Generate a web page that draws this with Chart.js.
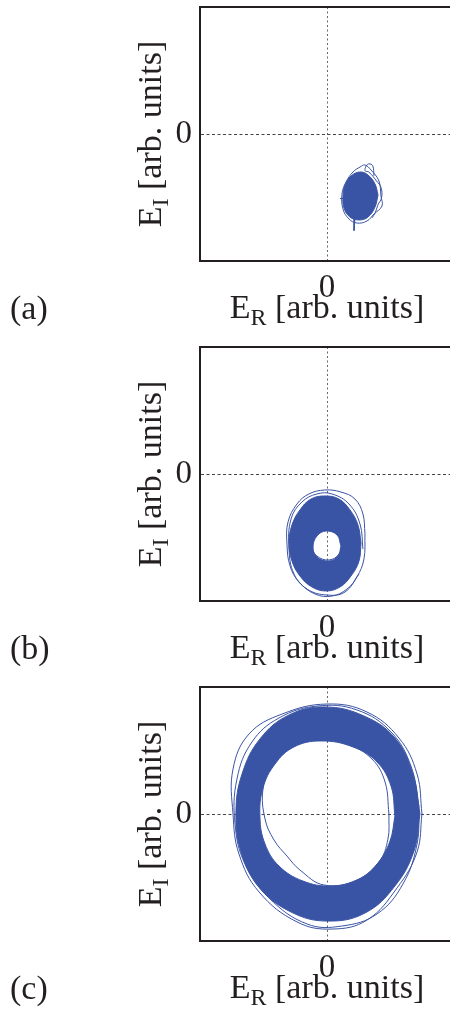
<!DOCTYPE html>
<html>
<head>
<meta charset="utf-8">
<script src="https://cdn.jsdelivr.net/npm/chart.js@4.4.1/dist/chart.umd.min.js"></script>
<style>
  html, body { margin: 0; padding: 0; background: #fff; width: 450px; height: 1010px; overflow: hidden; }
  canvas { position: absolute; left: 0; }
</style>
</head>
<body>
<canvas id="panelA" width="470" height="330" style="top:0px"></canvas>
<canvas id="panelB" width="470" height="330" style="top:340px"></canvas>
<canvas id="panelC" width="470" height="330" style="top:680px"></canvas>
<script>
// ---- labels ----
const panelLetters = ['(a)', '(b)', '(c)'];
const xTitle = ['E', 'R', ' [arb. units]'];   // base, subscript, rest
const yTitle = ['E', 'I', ' [arb. units]'];
const tickValues = [0];

// ---- (a) field trajectory: a small noisy spot ----
const spotA_outline = [[0.402,-0.480],[0.378,-0.394],[0.323,-0.323],[0.260,-0.299],[0.189,-0.331],[0.142,-0.402],
                       [0.126,-0.488],[0.134,-0.583],[0.181,-0.654],[0.252,-0.677],[0.323,-0.654],[0.378,-0.575]];
const spotA_loop1 = [[0.425,-0.488],[0.409,-0.370],[0.346,-0.283],[0.299,-0.244],[0.260,-0.260],[0.205,-0.299],[0.150,-0.378],
                     [0.118,-0.472],[0.126,-0.591],[0.173,-0.669],[0.236,-0.701],[0.315,-0.685],[0.370,-0.630],[0.433,-0.567]];
const spotA_loop2 = [[0.37,-0.33],[0.36,-0.25],[0.33,-0.235],[0.31,-0.25],[0.30,-0.29],[0.33,-0.30],[0.39,-0.37],
                     [0.425,-0.42],[0.43,-0.50],[0.40,-0.56],[0.38,-0.62],[0.355,-0.66]];
const spotA_spike = [[0.220,-0.560],[0.213,-0.760],[0.225,-0.600]];
const spotA_stub = [[0.102,-0.508],[0.170,-0.508]];

// ---- (b) trajectory: small ring below the origin ----
const ringB_outer = [[0.268,-0.543],[0.244,-0.402],[0.181,-0.283],[0.094,-0.197],[-0.016,-0.173],[-0.126,-0.197],
                     [-0.213,-0.283],[-0.276,-0.402],[-0.299,-0.543],[-0.276,-0.685],[-0.213,-0.803],[-0.118,-0.890],
                     [-0.008,-0.921],[0.102,-0.890],[0.189,-0.803],[0.252,-0.685]];
const ringB_inner = [[0.110,-0.567],[0.079,-0.480],[-0.008,-0.449],[-0.079,-0.488],[-0.110,-0.575],[-0.079,-0.654],
                     [0.016,-0.685],[0.087,-0.646]];
const ringB_loop1 = [[0.299,-0.472],[0.283,-0.315],[0.220,-0.197],[0.110,-0.142],[-0.016,-0.126],[-0.142,-0.157],
                     [-0.236,-0.236],[-0.307,-0.378],[-0.315,-0.551],[-0.291,-0.724],[-0.220,-0.850],[-0.094,-0.945],
                     [0.039,-0.961],[0.157,-0.906],[0.236,-0.811],[0.291,-0.669]];
const ringB_loop2 = [[0.283,-0.591],[0.260,-0.394],[0.173,-0.236],[0.039,-0.157],[-0.079,-0.157],[-0.197,-0.220],
                     [-0.283,-0.354],[-0.299,-0.591],[-0.260,-0.787],[-0.157,-0.906],[0.000,-0.953],[0.142,-0.929],
                     [0.252,-0.787]];
const ringB_loop3 = [[0.126,-0.520],[0.094,-0.630],[0.016,-0.677],[-0.079,-0.646],[-0.126,-0.567],[-0.157,-0.457],
                     [-0.079,-0.362],[0.063,-0.362],[0.126,-0.441]];

// ---- (c) trajectory: large ring around the origin ----
const ringC_outer = [[0.732,0.000],[0.677,0.315],[0.535,0.598],[0.291,0.772],[-0.016,0.843],[-0.299,0.780],
                     [-0.528,0.591],[-0.669,0.315],[-0.717,0.016],[-0.677,-0.299],[-0.528,-0.583],[-0.283,-0.772],
                     [0.000,-0.843],[0.299,-0.780],[0.535,-0.567],[0.685,-0.291]];
const ringC_inner = [[0.535,-0.016],[0.504,0.220],[0.394,0.409],[0.205,0.528],[-0.047,0.575],[-0.260,0.528],
                     [-0.409,0.394],[-0.504,0.205],[-0.528,-0.024],[-0.488,-0.236],[-0.378,-0.409],[-0.189,-0.528],
                     [0.031,-0.567],[0.236,-0.520],[0.394,-0.394],[0.496,-0.213]];
const ringC_loop1 = [[0.748,0.000],[0.709,0.315],[0.567,0.598],[0.315,0.803],[0.000,0.866],[-0.354,0.787],
                     [-0.614,0.630],[-0.740,0.354],[-0.740,0.000],[-0.693,-0.315],[-0.535,-0.614],[-0.236,-0.850],
                     [0.039,-0.906],[0.315,-0.835],[0.551,-0.583],[0.709,-0.299]];
const ringC_loop2 = [[0.488,0.000],[0.457,0.252],[0.354,0.433],[0.157,0.551],[-0.063,0.583],[-0.276,0.535],
                     [-0.433,0.394],[-0.504,0.197],[-0.488,-0.039],[-0.417,-0.205],[-0.315,-0.331],[-0.213,-0.441],
                     [-0.024,-0.559],[0.236,-0.520],[0.409,-0.378],[0.480,-0.197]];
const ringC_loop3 = [[0.724,0.063],[0.661,0.378],[0.504,0.646],[0.236,0.819],[-0.079,0.850],[-0.378,0.756],
                     [-0.591,0.567],[-0.709,0.276],[-0.724,-0.079],[-0.646,-0.394],[-0.457,-0.661],[-0.157,-0.866],
                     [0.118,-0.882],[0.394,-0.787],[0.598,-0.551],[0.709,-0.236]];

// ---- styling ----
const BLUE = '#3a54a5';
const INK = '#231f20';
const SERIF = '"Liberation Serif", "Times New Roman", Times, serif';
const FS = 34;       // axis titles and panel letters
const TICK_FS = 33;  // the "0" tick labels

// ---- helpers turning the lists into Chart.js point data ----
const toPoints = a => a.map(p => ({ x: p[0], y: p[1] }));
const closedPath = a => toPoints(a.concat([a[0]]));
const openPath = a => toPoints(a);
// outer boundary one way, inner boundary the other way: filled with nonzero rule this leaves the hole open
const bandPath = (outer, inner) => toPoints(
  outer.concat([outer[0], outer[0]], [inner[0], inner[0]], inner.slice(1).reverse(), [inner[0]])
);

const filled = data => ({ data, fill: 'shape', backgroundColor: BLUE, borderColor: BLUE, borderWidth: 1,
                          tension: 0.4, pointRadius: 0 });
const thread = (data, tension = 0.4) => ({ data, fill: false, borderColor: BLUE, borderWidth: 1,
                                           tension, pointRadius: 0 });

function drawLabel(ctx, parts, cx, baseline) {
  const big = FS + 'px ' + SERIF;
  const small = Math.round(FS * 0.7) + 'px ' + SERIF;
  ctx.font = big;
  const w0 = ctx.measureText(parts[0]).width;
  const w2 = ctx.measureText(parts[2]).width;
  ctx.font = small;
  const w1 = ctx.measureText(parts[1]).width;
  let x = cx - (w0 + w1 + w2) / 2;
  ctx.textAlign = 'left';
  ctx.textBaseline = 'alphabetic';
  ctx.font = big;   ctx.fillText(parts[0], x, baseline); x += w0;
  ctx.font = small; ctx.fillText(parts[1], x, baseline + 7); x += w1;
  ctx.font = big;   ctx.fillText(parts[2], x, baseline);
}

const panelText = {
  id: 'panelText',
  afterDraw(chart, args, opts) {
    const { ctx, chartArea: a } = chart;
    ctx.save();
    ctx.fillStyle = INK;
    drawLabel(ctx, xTitle, (a.left + a.right) / 2, a.bottom + 57);
    ctx.save();
    ctx.translate(a.left - 39, (a.top + a.bottom) / 2);
    ctx.rotate(-Math.PI / 2);
    drawLabel(ctx, yTitle, 0, 0);
    ctx.restore();
    ctx.font = FS + 'px ' + SERIF;
    ctx.textAlign = 'left';
    ctx.textBaseline = 'alphabetic';
    ctx.fillText(opts.letter, 10, a.bottom + 58);
    ctx.restore();
  }
};

function axisOptions(position) {
  const horizontal = position === 'bottom';
  return {
    type: 'linear', position, min: -1, max: 1,
    afterBuildTicks: s => { s.ticks = tickValues.map(v => ({ value: v })); },
    afterFit: s => {
      if (horizontal) { s.height = 69; s.paddingLeft = 0; s.paddingRight = 0; }
      else { s.width = 200; s.paddingTop = 0; s.paddingBottom = 0; }
    },
    ticks: { font: { family: SERIF, size: TICK_FS }, color: INK, padding: horizontal ? 8 : 8,
             maxRotation: 0, autoSkip: false },
    grid: { color: horizontal ? '#666' : '#444', lineWidth: 1, drawTicks: false, tickLength: 0,
            borderDash: horizontal ? [2, 2.5] : [3, 2.5] },
    border: { display: true, color: INK, width: 2, dash: horizontal ? [2, 2.5] : [3, 2.5] }
  };
}

function makePanel(id, letter, datasets) {
  return new Chart(document.getElementById(id), {
    type: 'line',
    data: { datasets },
    plugins: [panelText],
    options: {
      responsive: false, animation: false, events: [],
      layout: { padding: { top: 7, right: 16, bottom: 0, left: 0 } },
      plugins: { legend: { display: false }, tooltip: { enabled: false }, panelText: { letter } },
      scales: {
        x: axisOptions('bottom'),
        y: axisOptions('left'),
        frameTop: {
          type: 'linear', position: 'top', min: -1, max: 1,
          afterBuildTicks: s => { s.ticks = []; },
          afterFit: s => { s.height = 0; s.paddingLeft = 0; s.paddingRight = 0; },
          ticks: { display: false },
          grid: { display: false, drawTicks: false },
          border: { display: true, color: INK, width: 2 }
        }
      }
    }
  });
}

makePanel('panelA', panelLetters[0], [
  filled(closedPath(spotA_outline)),
  thread(closedPath(spotA_loop1)),
  thread(openPath(spotA_loop2)),
  thread(openPath(spotA_spike), 0),
  thread(openPath(spotA_stub), 0)
]);

makePanel('panelB', panelLetters[1], [
  filled(bandPath(ringB_outer, ringB_inner)),
  thread(closedPath(ringB_loop1)),
  thread(openPath(ringB_loop2)),
  thread(closedPath(ringB_loop3))
]);

makePanel('panelC', panelLetters[2], [
  filled(bandPath(ringC_outer, ringC_inner)),
  thread(closedPath(ringC_loop1)),
  thread(closedPath(ringC_loop2)),
  thread(closedPath(ringC_loop3))
]);
</script>
</body>
</html>
